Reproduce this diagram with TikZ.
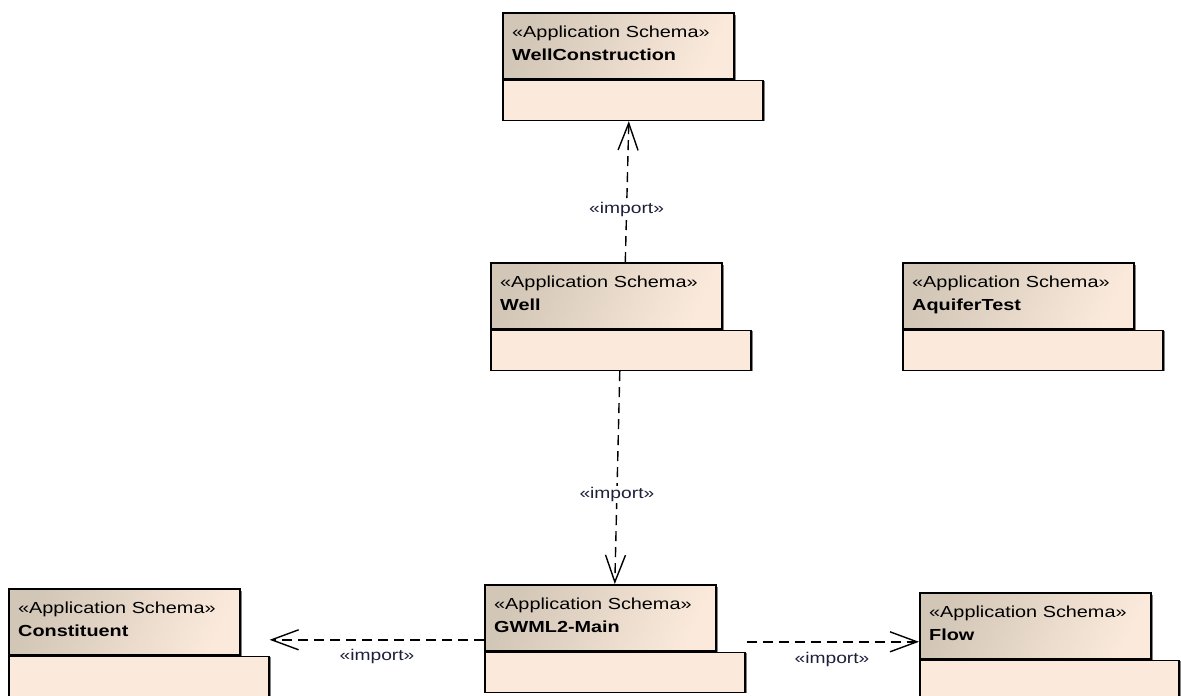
\documentclass[tikz,border=0pt]{standalone}
\usepackage{fontspec}
\usetikzlibrary{arrows.meta,calc}
\newfontfamily\umlfont[FakeStretch=1.24]{Liberation Sans}

\definecolor{pkgfill}{RGB}{251,234,219}
\definecolor{pkgdark}{RGB}{210,198,183}
\definecolor{pkgshade}{RGB}{90,90,90}
\definecolor{lblcol}{RGB}{28,32,58}

\tikzset{
  pkgtab/.style={draw=black, line width=1.6pt, left color=pkgdark, right color=pkgfill,
    shading angle=65, minimum width=231pt, minimum height=66pt, inner sep=0pt,
    anchor=north west},
  pkgbody/.style={draw=black, line width=1.6pt, fill=pkgfill, minimum height=40pt,
    inner sep=0pt, anchor=north west},
  pkgshadow/.style={fill=pkgshade, opacity=0.75},
  pkgstereo/.style={anchor=base west, inner sep=0pt,
    font=\umlfont\fontsize{16}{18}\selectfont},
  pkgname/.style={anchor=base west, inner sep=0pt,
    font=\umlfont\bfseries\fontsize{16}{18}\selectfont},
  dep/.style={draw=black, line width=1.4pt, dash pattern=on 10pt off 6pt,
    -{Straight Barb[length=27pt,width=20pt,line width=1.4pt]}},
  deplabel/.style={text=lblcol, inner sep=1.5pt,
    font=\umlfont\fontsize{15.5}{17}\selectfont},
}

% one UML package: #1 name, #2 left x, #3 top y, #4 body width, #5 title
\newcommand\umlpackage[5]{%
  \fill[pkgshadow] (#2+3,#3+3) rectangle ++(231,66);
  \fill[pkgshadow] (#2+3,#3+69) rectangle ++(#4,40);
  \node[pkgtab] (#1-tab) at (#2,#3) {};
  \node[pkgbody, minimum width=#4pt] (#1-body) at (#1-tab.south west) {};
  \node[pkgstereo] (#1-st) at ($(#1-tab.north west)+(10,25)$) {«Application Schema»};
  \node[pkgname] (#1-nm) at ($(#1-tab.north west)+(10,48)$) {#5};
}

\begin{document}
\begin{tikzpicture}[x=1pt, y=-1pt]
\useasboundingbox (0,0) rectangle (1181,696);

\umlpackage{wc}{502}{12}{260}{WellConstruction}
\umlpackage{well}{490}{262}{260}{Well}
\umlpackage{aqt}{902}{262}{260}{AquiferTest}
\umlpackage{con}{8}{588}{260}{Constituent}
\umlpackage{gwml}{484}{584}{260}{GWML2-Main}
\umlpackage{flow}{919}{592}{259}{Flow}

% import dependencies
\coordinate (g-left) at ($(gwml-tab.west)+(0,22)$);
\coordinate (con-end) at (con-body.east |- g-left);
\coordinate (g-right) at ($(gwml-body.east |- flow-tab.west)+(1,16)$);
\coordinate (flow-end) at ($(flow-tab.west)+(0,16)$);

\draw[dep] ([xshift=19pt]well-tab.north) -- ([xshift=-4pt]wc-body.south)
  node[deplabel, fill=white, pos=0.37] (lbl1) {«import»};
\draw[dep] ([xshift=-1pt]well-body.south) -- ([xshift=14.5pt]gwml-tab.north)
  node[deplabel, fill=white, pos=0.58] (lbl2) {«import»};
\draw[dep] (g-left) -- (con-end);
\node[deplabel] (lbl3) at (377,656) {«import»};
\draw[dep] (g-right) -- (flow-end);
\node[deplabel] (lbl4) at (832,659) {«import»};
\end{tikzpicture}
\end{document}
